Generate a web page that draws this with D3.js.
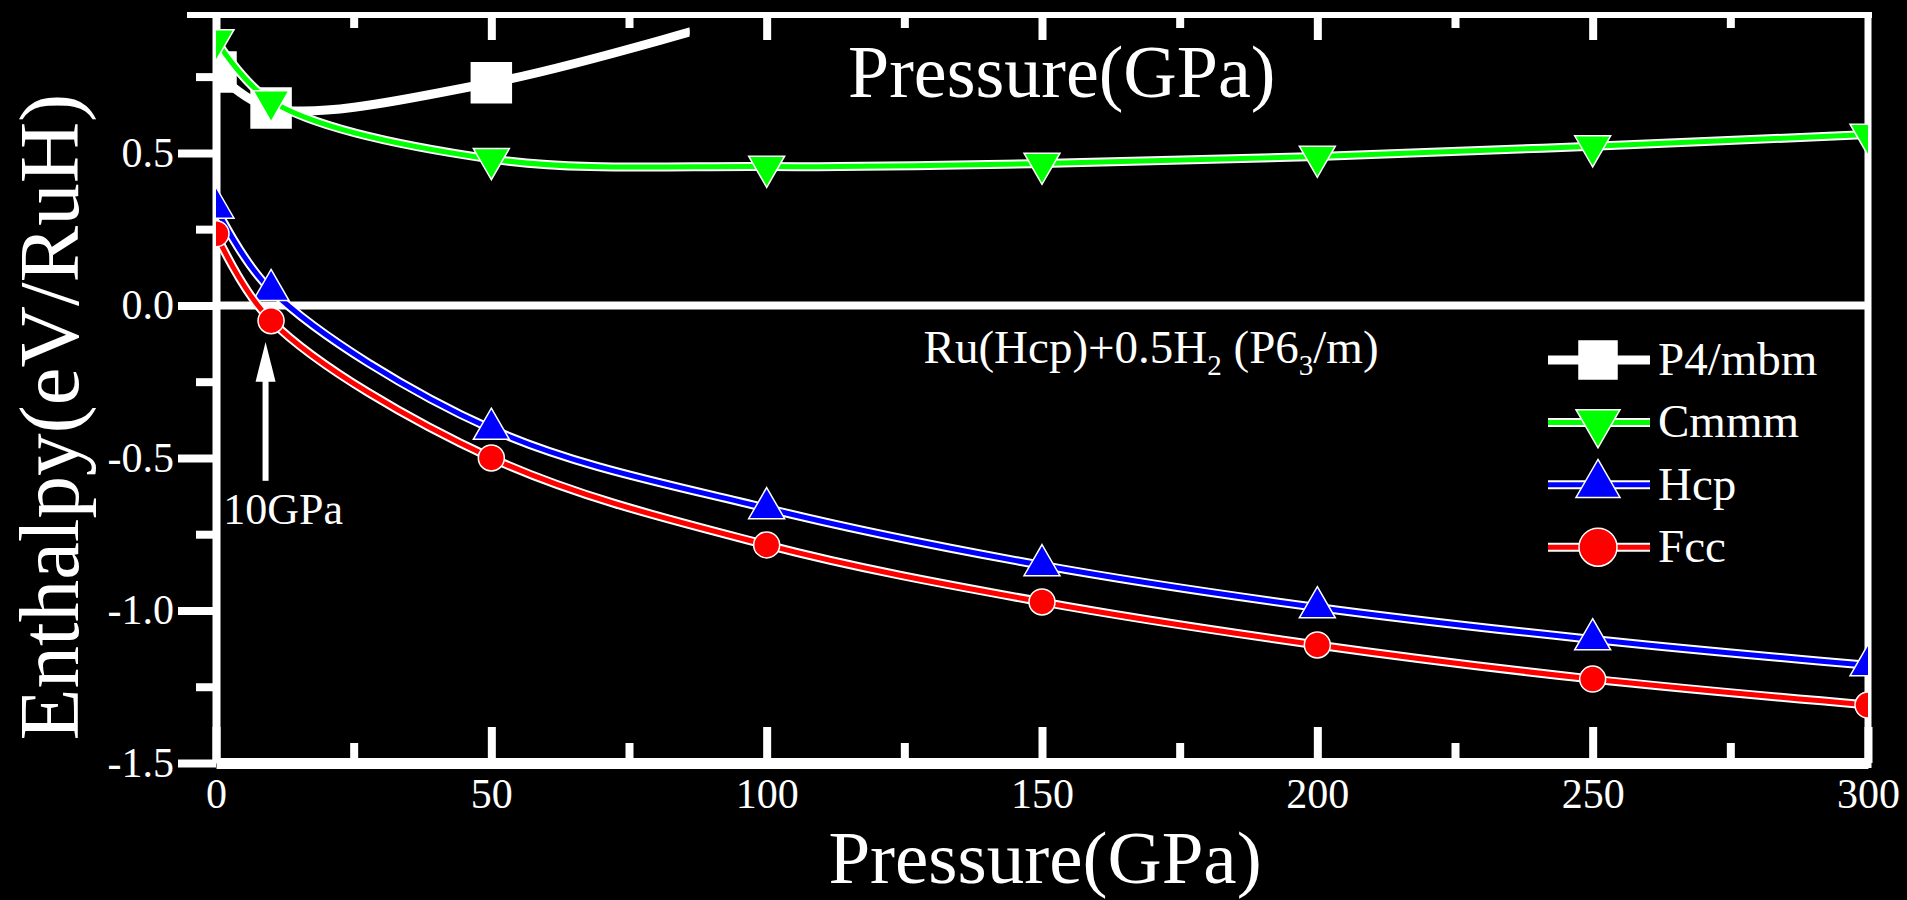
<!DOCTYPE html>
<html>
<head>
<meta charset="utf-8">
<script src="https://cdn.jsdelivr.net/npm/d3@7"></script>
<style>
  html, body { margin: 0; padding: 0; background: #000; }
  svg { display: block; background: #000; }
  text { font-family: "Liberation Serif", "Times New Roman", serif; fill: #fff; }
</style>
</head>
<body>
<svg id="chart" width="1907" height="900"></svg>
<script>
// Pressure points (GPa)
const pressure = [0, 10, 50, 100, 150, 200, 250, 300];
// Enthalpy relative to Ru(Hcp)+0.5H2 (eV/RuH)
const fcc  = [0.235, -0.05, -0.50, -0.785, -0.972, -1.113, -1.225, -1.31];
const hcp  = [0.32, 0.05, -0.405, -0.665, -0.852, -0.99, -1.095, -1.18];
const cmmm = [0.87, 0.67, 0.48, 0.455, 0.465, 0.488, 0.522, 0.56];
// P4/mbm is only visible up to where the upper panel got cut off
const p4Pressure = [0, 10, 50, 100];
const p4mbm = [0.765, 0.647, 0.73, 0.97];
const p4Cut = 86;

const xMajor = [0, 50, 100, 150, 200, 250, 300];
const xMinor = [25, 75, 125, 175, 225, 275];
const yMajor = [0.5, 0.0, -0.5, -1.0, -1.5];
const yMinor = [0.75, 0.25, -0.25, -0.75, -1.25];

const seriesNames = ["P4/mbm", "Cmmm", "Hcp", "Fcc"];
const seriesColors = ["#ffffff", "#00ff00", "#0000ff", "#ff0000"];

const svg = d3.select("#chart");

const x = d3.scaleLinear().domain([0, 300]).range([216, 1868]);
const y = d3.scaleLinear().domain([-1.5, 0.952]).range([763, 15]);

const [x0, x1] = x.range();
const [yb, yt] = y.range();

// clip region = plot area
const defs = svg.append("defs");
defs.append("clipPath").attr("id", "plotClip")
  .append("rect")
  .attr("x", x0).attr("y", yt)
  .attr("width", x1 - x0).attr("height", yb - yt);
defs.append("clipPath").attr("id", "p4Clip")
  .append("rect")
  .attr("x", x0).attr("y", yt)
  .attr("width", x(p4Cut) - x0).attr("height", yb - yt);

// Style helper for axes
function styleAxis(g, width) {
  g.selectAll("path.domain").attr("stroke", "#fff").attr("stroke-width", width);
  g.selectAll(".tick line").attr("stroke", "#fff").attr("stroke-width", 8);
  g.selectAll(".tick text").attr("fill", "#fff")
    .style("font-family", '"Liberation Serif", "Times New Roman", serif')
    .style("font-size", "42px");
}

// -------------------- Axes --------------------
// left
const gLeft = svg.append("g").attr("transform", `translate(${x0},0)`)
  .call(d3.axisLeft(y).tickValues(yMajor).tickSize(38).tickSizeOuter(0)
    .tickPadding(4).tickFormat(d => d.toFixed(1)));
styleAxis(gLeft, 8);
const gLeftMinor = svg.append("g").attr("transform", `translate(${x0},0)`)
  .call(d3.axisLeft(y).tickValues(yMinor).tickSize(20).tickFormat(""));
gLeftMinor.select("path.domain").remove();
styleAxis(gLeftMinor, 8);

// bottom (ticks pointing inward)
const gBottom = svg.append("g").attr("transform", `translate(0,${yb})`)
  .call(d3.axisBottom(x).tickValues(xMajor).tickSize(-36).tickSizeOuter(0));
styleAxis(gBottom, 11);
gBottom.selectAll(".tick text").attr("y", 45).attr("dy", 0);
const gBottomMinor = svg.append("g").attr("transform", `translate(0,${yb})`)
  .call(d3.axisBottom(x).tickValues(xMinor).tickSize(-20).tickFormat(""));
gBottomMinor.select("path.domain").remove();
styleAxis(gBottomMinor, 8);

// top (ticks pointing down)
const gTop = svg.append("g").attr("transform", `translate(0,${yt})`)
  .call(d3.axisTop(x).tickValues(xMajor.slice(1, -1)).tickSize(-25).tickFormat(""));
gTop.select("path.domain").remove();
styleAxis(gTop, 6);
const gTopMinor = svg.append("g").attr("transform", `translate(0,${yt})`)
  .call(d3.axisTop(x).tickValues(xMinor).tickSize(-13).tickFormat(""));
gTopMinor.select("path.domain").remove();
styleAxis(gTopMinor, 6);

// frame top + right
svg.append("line")
  .attr("x1", x0 - 29).attr("x2", x1 + 4)
  .attr("y1", yt).attr("y2", yt)
  .attr("stroke", "#fff").attr("stroke-width", 6);
svg.append("line")
  .attr("x1", x1).attr("x2", x1)
  .attr("y1", yt - 3).attr("y2", yb + 5)
  .attr("stroke", "#fff").attr("stroke-width", 7);

// reference line Ru(Hcp)+0.5H2 at 0
svg.append("line")
  .attr("x1", x0).attr("x2", x1)
  .attr("y1", y(0)).attr("y2", y(0))
  .attr("stroke", "#fff").attr("stroke-width", 8);

// -------------------- Series --------------------
const series = [
  { name: seriesNames[0], color: seriesColors[0], xs: p4Pressure, ys: p4mbm, shape: "square", clip: "p4Clip" },
  { name: seriesNames[1], color: seriesColors[1], xs: pressure, ys: cmmm, shape: "down", clip: "plotClip" },
  { name: seriesNames[2], color: seriesColors[2], xs: pressure, ys: hcp, shape: "up", clip: "plotClip" },
  { name: seriesNames[3], color: seriesColors[3], xs: pressure, ys: fcc, shape: "circle", clip: "plotClip" }
];

function symbolPath(shape, big) {
  if (shape === "square") return d3.symbol().type(d3.symbolSquare).size(big ? 1444 : 1600)();
  if (shape === "circle") return d3.symbol().type(d3.symbolCircle).size(big ? 1134 : 531)();
  return d3.symbol().type(d3.symbolTriangle).size(big ? 838 : 560)();
}

const line = d3.line()
  .x(d => x(d[0]))
  .y(d => y(d[1]))
  .curve(d3.curveCatmullRom.alpha(0.5));

const plot = svg.append("g").attr("clip-path", "url(#plotClip)");

series.forEach(s => {
  const pts = s.xs.map((v, i) => [v, s.ys[i]]);
  const g = plot.append("g").attr("clip-path", `url(#${s.clip})`);

  g.append("path")
    .attr("d", line(pts))
    .attr("fill", "none")
    .attr("stroke", "#fff")
    .attr("stroke-width", 9);
  g.append("path")
    .attr("d", line(pts))
    .attr("fill", "none")
    .attr("stroke", s.color)
    .attr("stroke-width", 5);

  const markPts = s.shape === "square" ? pts.filter(d => d[0] <= p4Cut) : pts;
  g.selectAll("path.mark")
    .data(markPts)
    .enter()
    .append("path")
    .attr("class", "mark")
    .attr("d", symbolPath(s.shape, false))
    .attr("transform", d => `translate(${x(d[0])},${y(d[1])})` + (s.shape === "down" ? " rotate(180)" : ""))
    .attr("fill", s.color)
    .attr("stroke", "#fff")
    .attr("stroke-width", 1.5);
});

// -------------------- Legend --------------------
const legend = svg.append("g").attr("transform", "translate(1548,360)");
series.forEach((s, i) => {
  const row = legend.append("g").attr("transform", `translate(0,${i * 62.4})`);
  row.append("line")
    .attr("x1", 0).attr("x2", 102)
    .attr("stroke", "#fff").attr("stroke-width", 9);
  row.append("line")
    .attr("x1", 0).attr("x2", 102)
    .attr("stroke", s.color).attr("stroke-width", 5);
  row.append("path")
    .attr("d", symbolPath(s.shape, true))
    .attr("transform", "translate(50,0)" + (s.shape === "down" ? " rotate(180)" : ""))
    .attr("fill", s.color)
    .attr("stroke", "#fff")
    .attr("stroke-width", 1.5);
  row.append("text")
    .attr("x", 110).attr("y", 15)
    .style("font-size", "47px")
    .text(s.name);
});

// -------------------- Annotations --------------------
const ref = svg.append("text")
  .attr("x", x(128.5)).attr("y", y(-0.19))
  .style("font-size", "47px");
ref.append("tspan").text("Ru(Hcp)+0.5H");
ref.append("tspan").attr("dy", 12).style("font-size", "29px").text("2");
ref.append("tspan").attr("dy", -12).text(" (P6");
ref.append("tspan").attr("dy", 12).style("font-size", "29px").text("3");
ref.append("tspan").attr("dy", -12).text("/m)");

// 10 GPa arrow
const ax = x(9);
svg.append("line")
  .attr("x1", ax).attr("x2", ax)
  .attr("y1", y(-0.575)).attr("y2", y(-0.2))
  .attr("stroke", "#fff").attr("stroke-width", 6);
svg.append("path")
  .attr("d", `M${ax},${y(-0.12)} L${ax - 10},${y(-0.25)} L${ax + 10},${y(-0.25)} Z`)
  .attr("fill", "#fff");
svg.append("text")
  .attr("x", x(1.3)).attr("y", y(-0.715))
  .style("font-size", "44px")
  .text("10GPa");

// -------------------- Titles --------------------
svg.append("text")
  .attr("x", 848).attr("y", 97)
  .style("font-size", "74px")
  .text("Pressure(GPa)");

svg.append("text")
  .attr("x", 1045).attr("y", 883)
  .attr("text-anchor", "middle")
  .style("font-size", "75px")
  .text("Pressure(GPa)");

svg.append("text")
  .attr("transform", "translate(78,417) rotate(-90)")
  .attr("text-anchor", "middle")
  .style("font-size", "85px")
  .text("Enthalpy(eV/RuH)");
</script>
</body>
</html>
